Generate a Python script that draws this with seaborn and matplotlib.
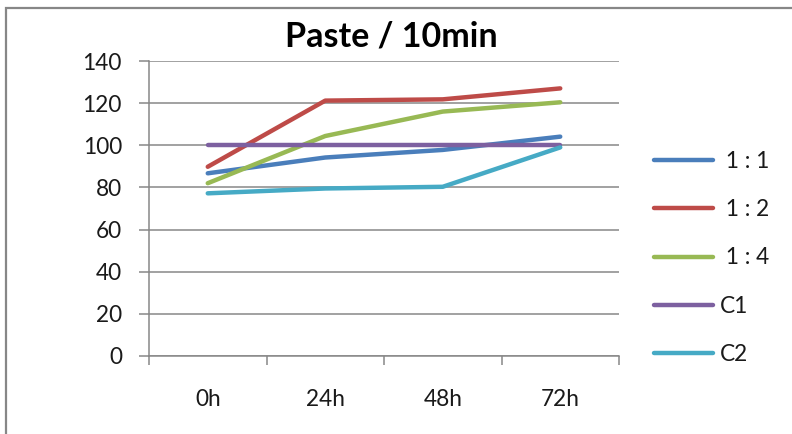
import matplotlib
matplotlib.use("Agg")
import matplotlib.pyplot as plt
import seaborn as sns
import pandas as pd
from matplotlib.patches import Rectangle

# Sample times and measured values per mixture ratio
times = ["0h", "24h", "48h", "72h"]
series_names = [" 1 : 1", " 1 : 2", " 1 : 4", "C1", "C2"]
ratio_1_1 = [86.7, 94.2, 97.8, 104.1]
ratio_1_2 = [89.8, 121.2, 121.8, 127.0]
ratio_1_4 = [82.0, 104.4, 116.0, 120.4]
control_1 = [100.0, 100.0, 100.0, 100.0]
control_2 = [77.2, 79.5, 80.3, 99.0]
y_ticks = [0, 20, 40, 60, 80, 100, 120, 140]

colors = ["#4A7EBB", "#BE4B48", "#98B954", "#7D60A0", "#46AAC5"]

rows = []
for name, vals in zip(series_names,
                      [ratio_1_1, ratio_1_2, ratio_1_4, control_1, control_2]):
    for t, v in zip(times, vals):
        rows.append({"time": t, "value": v, "series": name})
df = pd.DataFrame(rows)

sns.set_theme(style="white")
plt.rcParams["font.family"] = ["Lato", "DejaVu Sans"]

fig = plt.figure(figsize=(7.92, 4.34), dpi=100)
W, H = 792, 434
ax = fig.add_axes([149 / W, 1 - 356 / H, (619 - 149) / W, (356 - 61) / H])

sns.lineplot(data=df, x="time", y="value", hue="series", palette=colors,
             hue_order=series_names, sort=False, linewidth=3.2,
             legend=False, ax=ax)
for ln in ax.lines:
    ln.set_solid_capstyle("round")

grid_c = "#878787"
text_c = "#1a1a1a"
ax.set_ylim(0, 140)
ax.set_yticks(y_ticks)
ax.set_xlim(-0.5, 3.5)
ax.set_xticks(range(len(times)))
ax.set_xticklabels(times)
ax.set_xticks([-0.5, 0.5, 1.5, 2.5, 3.5], minor=True)
ax.yaxis.grid(True, color=grid_c, linewidth=1.1)
ax.set_axisbelow(True)
for s in ["top", "right"]:
    ax.spines[s].set_visible(False)
for s in ["left", "bottom"]:
    ax.spines[s].set_color(grid_c)
    ax.spines[s].set_linewidth(1.1)
ax.tick_params(axis="y", which="major", length=7.5, width=1.1, color=grid_c,
               left=True, pad=12, labelsize=16.3, labelcolor=text_c)
ax.tick_params(axis="x", which="major", length=0, pad=23.5, labelsize=16.3,
               labelcolor=text_c)
ax.tick_params(axis="x", which="minor", length=6.5, width=1.1, color=grid_c,
               bottom=True)
ax.set_xlabel("")
ax.set_ylabel("")

fig.text(391 / W, 1 - 36 / H, "Paste / 10min", ha="center", va="center",
         fontsize=24.5, fontweight="bold", color="#000000")

handles = [plt.Line2D([], [], color=c, linewidth=3.2, solid_capstyle="round")
           for c in colors]
fig.legend(handles, series_names, loc="center left",
           bbox_to_anchor=(645 / W, 1 - 258 / H), frameon=False,
           fontsize=16.3, handlelength=2.6, handletextpad=0.3,
           labelspacing=1.2, borderaxespad=0, labelcolor=text_c)

fig.patches.append(Rectangle((6 / W, -0.1), 1.2, 1 - 8 / H + 0.1,
                             transform=fig.transFigure, fill=False,
                             edgecolor=grid_c, linewidth=1.6))

fig.savefig("out.png", dpi=100)
